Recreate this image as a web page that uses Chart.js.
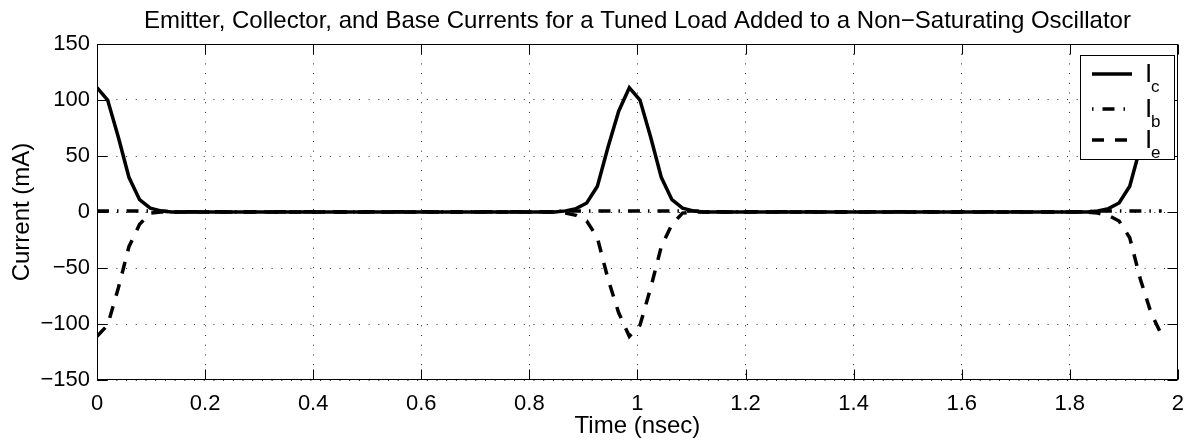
<!DOCTYPE html>
<html>
<head>
<meta charset="utf-8">
<script src="https://cdn.jsdelivr.net/npm/chart.js@4.4.0/dist/chart.umd.min.js"></script>
<style>
  html, body { margin: 0; padding: 0; background: #fff; }
</style>
</head>
<body>
<canvas id="chart" width="1195" height="444"></canvas>
<script>
const titleText = 'Emitter, Collector, and Base Currents for a Tuned Load Added to a Non\u2212Saturating Oscillator';
const xAxisTitle = 'Time (nsec)';
const yAxisTitle = 'Current (mA)';

// sample spacing of the simulation output, nsec
const sampleStep = 0.0197;

// collector current Ic (mA)
const collectorCurrent = [
  111, 100, 67, 31, 11, 3.5, 1,
  0, 0, 0, 0, 0, 0, 0, 0, 0, 0, 0, 0, 0, 0, 0, 0, 0, 0, 0,
  0, 0, 0, 0, 0, 0, 0, 0, 0, 0, 0, 0, 0, 0, 0, 0, 0, 0,
  1, 3, 8, 23, 58, 90,
  111, 100, 67, 31, 11, 3.5, 1,
  0, 0, 0, 0, 0, 0, 0, 0, 0, 0, 0, 0, 0, 0, 0, 0, 0, 0, 0,
  0, 0, 0, 0, 0, 0, 0, 0, 0, 0, 0, 0, 0, 0, 0, 0, 0, 0,
  1, 3, 8, 23, 58, 90,
  111
];

// base current Ib (mA)
const baseCurrent = [
  1, 1, 1, 1, 1, 1, 1,
  0.3, 0.3, 0.3, 0.3, 0.3, 0.3, 0.3, 0.3, 0.3, 0.3, 0.3, 0.3, 0.3, 0.3, 0.3, 0.3, 0.3, 0.3, 0.3,
  0.3, 0.3, 0.3, 0.3, 0.3, 0.3, 0.3, 0.3, 0.3, 0.3, 0.3, 0.3, 0.3, 0.3, 0.3, 0.3, 0.3, 0.3,
  1, 1, 1, 1, 1, 1,
  1, 1, 1, 1, 1, 1, 1,
  0.3, 0.3, 0.3, 0.3, 0.3, 0.3, 0.3, 0.3, 0.3, 0.3, 0.3, 0.3, 0.3, 0.3, 0.3, 0.3, 0.3, 0.3, 0.3,
  0.3, 0.3, 0.3, 0.3, 0.3, 0.3, 0.3, 0.3, 0.3, 0.3, 0.3, 0.3, 0.3, 0.3, 0.3, 0.3, 0.3, 0.3,
  1, 1, 1, 1, 1, 1,
  1
];

// emitter current Ie (mA)
const emitterCurrent = [
  -111, -101, -68, -31, -11, -1, 0,
  0, 0, 0, 0, 0, 0, 0, 0, 0, 0, 0, 0, 0, 0, 0, 0, 0, 0, 0,
  0, 0, 0, 0, 0, 0, 0, 0, 0, 0, 0, 0, 0, 0, 0, 0, 0, 0,
  -1, -3, -8, -23, -60, -90,
  -111, -101, -68, -31, -11, -1, 0,
  0, 0, 0, 0, 0, 0, 0, 0, 0, 0, 0, 0, 0, 0, 0, 0, 0, 0, 0,
  0, 0, 0, 0, 0, 0, 0, 0, 0, 0, 0, 0, 0, 0, 0, 0, 0, 0,
  -1, -3, -8, -23, -60, -90,
  -110
];

const xTicks = [0, 0.2, 0.4, 0.6, 0.8, 1, 1.2, 1.4, 1.6, 1.8, 2];
const yTicks = [-150, -100, -50, 0, 50, 100, 150];
const legendSubscripts = ['c', 'b', 'e'];

const timeNs = collectorCurrent.map((_, i) => i * sampleStep);
const toPoints = vals => vals.map((v, i) => ({ x: timeNs[i], y: v }));

const FONT = 'Liberation Sans, Arial, Helvetica, sans-serif';
const FONT_SIZE = 22;
const LABEL_SIZE = 24;

const dashIc = [];
const dashIb = [12, 8, 1.5, 8];
const dashIe = [12, 11];

// box, inward ticks, legend and titles the way MATLAB draws them
const matlabFrame = {
  id: 'matlabFrame',
  afterDatasetsDraw(chart) {
    const { ctx, chartArea: a, scales: { x, y } } = chart;
    ctx.save();
    ctx.strokeStyle = '#000';
    ctx.lineWidth = 1;
    ctx.setLineDash([]);
    const L = Math.round(a.left) + 0.5, R = Math.round(a.right) - 0.5;
    const T = Math.round(a.top) + 0.5, B = Math.round(a.bottom) - 0.5;
    ctx.strokeRect(L, T, R - L, B - T);

    const tickLen = 10;
    ctx.beginPath();
    xTicks.forEach(v => {
      const px = Math.round(x.getPixelForValue(v)) + 0.5;
      ctx.moveTo(px, B); ctx.lineTo(px, B - tickLen);
      ctx.moveTo(px, T); ctx.lineTo(px, T + tickLen);
    });
    yTicks.forEach(v => {
      const py = Math.round(y.getPixelForValue(v)) + 0.5;
      ctx.moveTo(L, py); ctx.lineTo(L + tickLen, py);
      ctx.moveTo(R, py); ctx.lineTo(R - tickLen, py);
    });
    ctx.stroke();

    // legend box in the upper right corner
    const lx = 1080.5, ly = 55.5, lw = 94, lh = 104;
    ctx.fillStyle = '#fff';
    ctx.fillRect(lx, ly, lw, lh);
    ctx.strokeRect(lx, ly, lw, lh);

    const rows = [74, 109, 140];
    const dashes = [dashIc, [1.5, 9, 12, 9], dashIe];
    rows.forEach((ry, i) => {
      ctx.lineWidth = 3.5;
      ctx.setLineDash(dashes[i]);
      ctx.beginPath();
      ctx.moveTo(1092, ry);
      ctx.lineTo(1132, ry);
      ctx.stroke();
    });
    ctx.setLineDash([]);
    ctx.fillStyle = '#000';
    ctx.textBaseline = 'alphabetic';
    ctx.textAlign = 'left';
    rows.forEach((ry, i) => {
      ctx.font = '26px ' + FONT;
      ctx.fillText('I', 1145, ry + 8);
      ctx.font = '17px ' + FONT;
      ctx.fillText(legendSubscripts[i], 1151, ry + 18);
    });
    ctx.restore();
  },
  afterDraw(chart) {
    const { ctx, chartArea: a } = chart;
    ctx.save();
    ctx.fillStyle = '#000';
    ctx.font = LABEL_SIZE + 'px ' + FONT;
    ctx.textAlign = 'center';
    ctx.textBaseline = 'middle';
    ctx.fillText(titleText, (a.left + a.right) / 2, 21);
    ctx.fillText(xAxisTitle, (a.left + a.right) / 2, 426);
    ctx.translate(22, (a.top + a.bottom) / 2);
    ctx.rotate(-Math.PI / 2);
    ctx.fillText(yAxisTitle, 0, 0);
    ctx.restore();
  }
};

const fmt = v => {
  const s = String(Math.round(v * 10) / 10);
  return s.replace('-', '\u2212');
};

new Chart(document.getElementById('chart').getContext('2d'), {
  type: 'line',
  data: {
    datasets: [
      { label: 'Ic', data: toPoints(collectorCurrent), borderColor: '#000', borderWidth: 3.5, borderDash: dashIc },
      { label: 'Ib', data: toPoints(baseCurrent), borderColor: '#000', borderWidth: 3.5, borderDash: dashIb },
      { label: 'Ie', data: toPoints(emitterCurrent), borderColor: '#000', borderWidth: 3.5, borderDash: dashIe }
    ]
  },
  options: {
    responsive: false,
    animation: false,
    devicePixelRatio: 1,
    layout: { padding: { top: 44, right: 10, left: 0, bottom: 0 } },
    elements: { point: { radius: 0 }, line: { tension: 0, fill: false } },
    plugins: { legend: { display: false }, title: { display: false }, tooltip: { enabled: false } },
    scales: {
      x: {
        type: 'linear', min: 0, max: 2,
        afterBuildTicks: s => { s.ticks = xTicks.map(v => ({ value: v })); },
        afterFit: s => { s.height = 64; },
        ticks: { callback: fmt, color: '#000', font: { family: FONT, size: FONT_SIZE }, padding: 11, maxRotation: 0, autoSkip: false },
        grid: { color: 'rgba(0,0,0,0.85)', lineWidth: 1, drawTicks: false },
        border: { display: false, dash: [1, 8.7] }
      },
      y: {
        type: 'linear', min: -150, max: 150,
        afterBuildTicks: s => { s.ticks = yTicks.map(v => ({ value: v })); },
        afterFit: s => { s.width = 97; },
        ticks: { callback: fmt, color: '#000', font: { family: FONT, size: FONT_SIZE }, padding: 7 },
        grid: { color: 'rgba(0,0,0,0.85)', lineWidth: 1, drawTicks: false },
        border: { display: false, dash: [1, 8.7] }
      }
    }
  },
  plugins: [matlabFrame]
});
</script>
</body>
</html>
